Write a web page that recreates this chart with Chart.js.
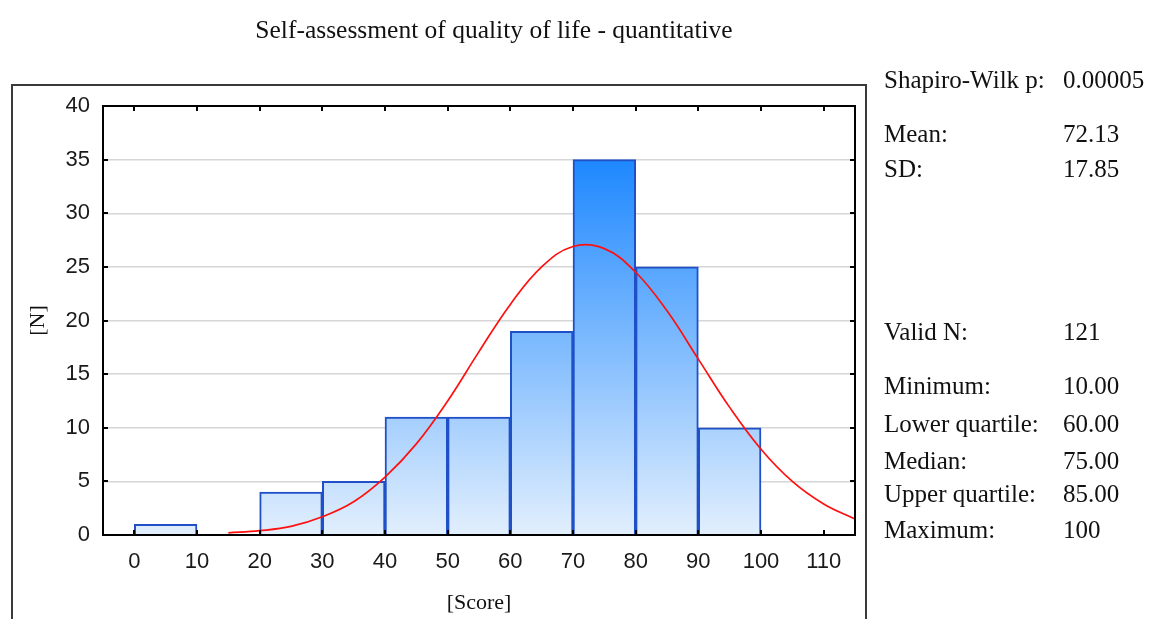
<!DOCTYPE html>
<html>
<head>
<meta charset="utf-8">
<script src="https://cdn.jsdelivr.net/npm/chart.js@4.4.1/dist/chart.umd.min.js"></script>
<style>
  html, body { margin: 0; padding: 0; background: #fff; }
  #wrap { position: relative; width: 1150px; height: 619px; overflow: hidden; background: #fff; }
  #c { position: absolute; left: 0; top: 0; }
  .t { position: absolute; font-family: "Liberation Serif", "Times New Roman", serif; color: #111; white-space: nowrap; line-height: 1; }
  #title { font-size: 25.5px; left: 0; width: 988px; text-align: center; top: 17px; }
  .stat { font-size: 25px; }
</style>
</head>
<body>
<div id="wrap">
  <canvas id="c" width="1150" height="619"></canvas>
  <div id="title" class="t">Self-assessment of quality of life - quantitative</div>
  <div id="stats"></div>
</div>
<script>
// Histogram of scores (bins of 10 points)
const binStarts = [0, 20, 30, 40, 50, 60, 70, 80, 90];
const binCounts = [1, 4, 5, 11, 11, 19, 35, 25, 10];
const binWidth = 10;

// Tick labels
const xTickValues = [0, 10, 20, 30, 40, 50, 60, 70, 80, 90, 100, 110];
const yTickStep = 5;

// Expected normal curve (counts per bin)
const curveX = [15, 20, 25, 30, 35, 40, 45, 50, 55, 60, 65, 70, 75, 80, 85, 90, 95, 100, 105, 110, 115];
const curveY = [0.2, 0.4, 0.8, 1.7, 3.1, 5.4, 8.5, 12.5, 17.1, 21.5, 25.0, 26.9, 26.7, 24.5, 20.9, 16.4, 11.9, 8.0, 5.0, 2.9, 1.5];

// Descriptive statistics panel
const statLabels = ["Shapiro-Wilk p:", "Mean:", "SD:", "Valid N:", "Minimum:", "Lower quartile:", "Median:", "Upper quartile:", "Maximum:"];
const statValues = ["0.00005", "72.13", "17.85", "121", "10.00", "60.00", "75.00", "85.00", "100"];

// Panel layout
const statRowCenters = [80, 134, 169, 332, 386, 424, 461, 494, 530];
const statLabelLeft = 884;
const statValueLeft = 1063;

const statsEl = document.getElementById('stats');
statLabels.forEach((label, i) => {
  const top = statRowCenters[i] - 13;
  const l = document.createElement('div');
  l.className = 't stat';
  l.style.left = statLabelLeft + 'px';
  l.style.top = top + 'px';
  l.textContent = label;
  statsEl.appendChild(l);
  const v = document.createElement('div');
  v.className = 't stat';
  v.style.left = statValueLeft + 'px';
  v.style.top = top + 'px';
  v.textContent = statValues[i];
  statsEl.appendChild(v);
});

const barPoints = binStarts.map((s, i) => ({ x: s + binWidth / 2, y: binCounts[i] }));
const curvePoints = curveX.map((x, i) => ({ x: x, y: curveY[i] }));

// Outer frame plus the plot box with inward tick marks
const framePlugin = {
  id: 'frame',
  beforeDraw(chart) {
    const ctx = chart.ctx;
    ctx.save();
    ctx.strokeStyle = '#3a3a3a';
    ctx.lineWidth = 2;
    ctx.beginPath();
    ctx.moveTo(12, 640);
    ctx.lineTo(12, 85);
    ctx.lineTo(866, 85);
    ctx.lineTo(866, 640);
    ctx.stroke();
    ctx.restore();
  },
  afterDatasetsDraw(chart) {
    const { ctx, chartArea: a, scales: { x, y } } = chart;
    ctx.save();
    ctx.strokeStyle = '#000';
    ctx.lineWidth = 2;
    ctx.strokeRect(a.left, a.top, a.right - a.left, a.bottom - a.top);
    ctx.beginPath();
    x.ticks.forEach(t => {
      const px = Math.round(x.getPixelForValue(t.value));
      ctx.moveTo(px, a.top); ctx.lineTo(px, a.top + 5);
      ctx.moveTo(px, a.bottom); ctx.lineTo(px, a.bottom - 5);
    });
    y.ticks.forEach(t => {
      const py = Math.round(y.getPixelForValue(t.value));
      ctx.moveTo(a.left, py); ctx.lineTo(a.left + 5, py);
      ctx.moveTo(a.right, py); ctx.lineTo(a.right - 5, py);
    });
    ctx.stroke();
    ctx.restore();
  }
};

function barGradient(context) {
  const chart = context.chart;
  const { chartArea, scales } = chart;
  if (!chartArea) return '#8cc2fa';
  const y0 = scales.y.getPixelForValue(0);
  const y1 = scales.y.getPixelForValue(35);
  const g = chart.ctx.createLinearGradient(0, y0, 0, y1);
  g.addColorStop(0, '#e2effd');
  g.addColorStop(1, '#1e88ff');
  return g;
}

const tickFont = { family: '"Liberation Sans", Arial, sans-serif', size: 22 };
const serifFont = { family: '"Liberation Serif", "Times New Roman", serif', size: 22 };

new Chart(document.getElementById('c'), {
  type: 'bar',
  data: {
    datasets: [
      {
        type: 'line',
        data: curvePoints,
        borderColor: '#ff1010',
        borderWidth: 1.7,
        pointRadius: 0,
        tension: 0.4,
        order: 0
      },
      {
        type: 'bar',
        data: barPoints,
        backgroundColor: barGradient,
        borderColor: '#1f50c8',
        borderWidth: 2,
        borderSkipped: 'bottom',
        barPercentage: 1,
        categoryPercentage: 1,
        order: 1
      }
    ]
  },
  options: {
    responsive: false,
    animation: false,
    devicePixelRatio: 1,
    layout: { padding: { left: 0, top: 106, right: 295, bottom: 0 } },
    plugins: { legend: { display: false }, tooltip: { enabled: false }, title: { display: false } },
    scales: {
      x: {
        type: 'linear',
        min: -5,
        max: 115,
        offset: false,
        afterBuildTicks: (scale) => { scale.ticks = xTickValues.map(v => ({ value: v })); },
        afterFit: (scale) => { scale.height = 84; },
        grid: { display: false, offset: false, drawTicks: false },
        border: { display: false },
        ticks: { font: tickFont, color: '#1a1a1a', padding: 14, maxRotation: 0, autoSkip: false },
        title: { display: true, text: '[Score]', font: serifFont, color: '#111', padding: { top: 0, bottom: 3 } }
      },
      y: {
        type: 'linear',
        min: 0,
        max: 40,
        afterFit: (scale) => { scale.width = 103; },
        grid: {
          drawTicks: false,
          lineWidth: 1.5,
          color: (c) => (c.tick && (c.tick.value === 0 || c.tick.value === 40)) ? 'rgba(0,0,0,0)' : '#d6d6d6'
        },
        border: { display: false },
        ticks: { stepSize: yTickStep, font: tickFont, color: '#1a1a1a', padding: 13 },
        title: { display: true, text: '[N]', font: serifFont, color: '#111', padding: { top: 25, bottom: 0 } }
      }
    }
  },
  plugins: [framePlugin]
});
</script>
</body>
</html>
